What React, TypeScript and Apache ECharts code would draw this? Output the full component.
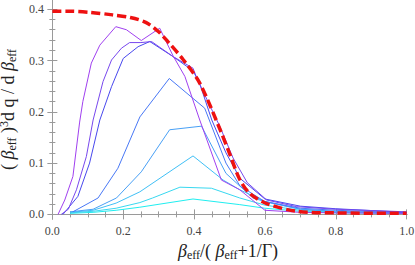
import React, { useEffect, useRef } from "react";
import * as echarts from "echarts";

// x = beta_eff/(beta_eff+1/Gamma), y = beta_eff^3 dq/dbeta_eff
const curveViolet: number[][] = [
  [0.016, 0.0], [0.035, 0.028], [0.058, 0.074], [0.077, 0.18], [0.086, 0.22], [0.11, 0.295],
  [0.134, 0.33], [0.179, 0.366], [0.209, 0.36], [0.251, 0.339], [0.303, 0.363], [0.34, 0.31],
  [0.374, 0.269], [0.416, 0.184], [0.477, 0.067], [0.529, 0.048], [0.6, 0.008], [0.7, 0.004],
  [0.8, 0.003], [1.0, 0.002],
];
const curvePurpleBlue: number[][] = [
  [0.025, 0.0], [0.045, 0.01], [0.068, 0.048], [0.096, 0.113], [0.115, 0.184], [0.143, 0.259],
  [0.167, 0.301], [0.195, 0.324], [0.218, 0.335], [0.25, 0.335], [0.28, 0.337], [0.34, 0.308],
  [0.397, 0.285], [0.41, 0.262], [0.473, 0.171], [0.51, 0.11], [0.55, 0.062], [0.605, 0.028],
  [0.69, 0.015], [0.8, 0.01], [1.0, 0.005],
];
const curveBlue: number[][] = [
  [0.03, 0.0], [0.072, 0.035], [0.105, 0.1], [0.134, 0.184], [0.167, 0.249], [0.2, 0.304],
  [0.242, 0.327], [0.275, 0.337], [0.34, 0.308], [0.397, 0.28], [0.416, 0.255], [0.45, 0.184],
  [0.49, 0.12], [0.53, 0.07], [0.6, 0.03], [0.7, 0.016], [0.8, 0.011], [1.0, 0.004],
];
const curveMidBlue: number[][] = [
  [0.058, 0.005], [0.129, 0.032], [0.185, 0.09], [0.247, 0.19], [0.33, 0.265], [0.43, 0.207],
  [0.49, 0.1], [0.53, 0.055], [0.6, 0.025], [0.7, 0.012], [0.8, 0.008], [1.0, 0.003],
];
const curveSky: number[][] = [
  [0.05, 0.005], [0.115, 0.01], [0.181, 0.032], [0.251, 0.083], [0.331, 0.165], [0.421, 0.172],
  [0.49, 0.08], [0.566, 0.032], [0.6, 0.025], [0.7, 0.01], [0.8, 0.006], [1.0, 0.002],
];
const curveLightBlue: number[][] = [
  [0.05, 0.004], [0.115, 0.008], [0.18, 0.022], [0.247, 0.044], [0.397, 0.114], [0.482, 0.067],
  [0.529, 0.048], [0.6, 0.025], [0.7, 0.01], [0.8, 0.005], [1.0, 0.002],
];
const curveAqua: number[][] = [
  [0.05, 0.003], [0.115, 0.006], [0.18, 0.012], [0.247, 0.023], [0.283, 0.032], [0.36, 0.053],
  [0.449, 0.051], [0.529, 0.032], [0.6, 0.018], [0.7, 0.008], [0.8, 0.004], [1.0, 0.002],
];
const curveCyan: number[][] = [
  [0.05, 0.002], [0.115, 0.004], [0.18, 0.008], [0.247, 0.014], [0.397, 0.03], [0.529, 0.019],
  [0.6, 0.012], [0.7, 0.006], [0.8, 0.003], [1.0, 0.002],
];
const curveLimit: number[][] = [
  [0.0, 0.396], [0.05, 0.396], [0.105, 0.394], [0.17, 0.389], [0.22, 0.384], [0.265, 0.374],
  [0.3, 0.356], [0.327, 0.336], [0.369, 0.302], [0.416, 0.256], [0.473, 0.166], [0.501, 0.117],
  [0.529, 0.068], [0.557, 0.041], [0.605, 0.021], [0.69, 0.006], [0.8, 0.003], [1.0, 0.002],
];

const xMajor = [0, 0.2, 0.4, 0.6, 0.8, 1.0];
const xMinor = [0.05, 0.1, 0.15, 0.25, 0.3, 0.35, 0.45, 0.5, 0.55, 0.65, 0.7, 0.75, 0.85, 0.9, 0.95];
const yMajor = [0, 0.1, 0.2, 0.3, 0.4];
const yMinor = [0.02, 0.04, 0.06, 0.08, 0.12, 0.14, 0.16, 0.18, 0.22, 0.24, 0.26, 0.28, 0.32, 0.34, 0.36, 0.38];

const curveColors = ["#a040f0", "#7848ee", "#4848ee", "#4878f6", "#48a0f6", "#40c0f6", "#38d8f0", "#20eef0"];

const SERIF = "Liberation Serif";
const FRAME = "#9a9a9a";

export default function App() {
  const ref = useRef<HTMLDivElement>(null);
  useEffect(() => {
    if (!ref.current) return;
    const chart = echarts.init(ref.current, null, { renderer: "svg" });
    const xMin = -0.0095, xMax = 1.001, yMin = -0.009, yMax = 0.418;
    const rich = {
      t: { fontFamily: SERIF, fontSize: 18, color: "#222", lineHeight: 20, verticalAlign: "middle" },
      b: { fontFamily: SERIF, fontSize: 18, fontStyle: "italic", color: "#222", lineHeight: 20, verticalAlign: "middle" },
      s: { fontFamily: SERIF, fontSize: 12, color: "#222", lineHeight: 11, verticalAlign: "bottom" },
      p: { fontFamily: SERIF, fontSize: 12, color: "#222", lineHeight: 11, verticalAlign: "top" },
    };
    const tickAxis = (major: boolean, vals: number[], labels: boolean, extra: any) => ({
      type: "value",
      axisLine: { show: major, lineStyle: { color: FRAME, width: 1 } },
      axisTick: { show: true, inside: true, length: major ? 5 : 3, customValues: vals, lineStyle: { color: FRAME, width: 1 } },
      axisLabel: labels
        ? { show: true, customValues: vals, formatter: (v: number) => v.toFixed(1), fontFamily: SERIF, fontSize: 12, color: "#444" }
        : { show: false },
      splitLine: { show: false },
      ...extra,
    });
    const mk = (data: number[][], color: string) => ({
      type: "line", data, symbol: "none", smooth: false, xAxisIndex: 0, yAxisIndex: 0,
      lineStyle: { color, width: 1 }, silent: true,
    });
    chart.setOption({
      animation: false,
      backgroundColor: "#fff",
      grid: { left: 49, right: 8, top: 0, bottom: 46, containLabel: false, outerBoundsMode: "none" },
      xAxis: [
        tickAxis(true, xMajor, true, {
          min: xMin, max: xMax, position: "bottom",
          axisLabel: { show: true, customValues: xMajor, formatter: (v: number) => v.toFixed(1), fontFamily: SERIF, fontSize: 12, color: "#444", margin: 6 },
          name: "{b|β}{s|eff}{t|/( }{b|β}{s|eff}{t|+1/Γ)}",
          nameLocation: "middle", nameGap: 15, nameTextStyle: { rich },
        }),
        tickAxis(false, xMinor, false, { min: xMin, max: xMax, position: "bottom" }),
        tickAxis(true, xMajor, false, { min: xMin, max: xMax, position: "top" }),
        tickAxis(false, xMinor, false, { min: xMin, max: xMax, position: "top" }),
      ],
      yAxis: [
        tickAxis(true, yMajor, true, {
          min: yMin, max: yMax, position: "left",
          axisLabel: { show: true, customValues: yMajor, formatter: (v: number) => v.toFixed(1), fontFamily: SERIF, fontSize: 12, color: "#444", margin: 5 },
          name: "{t|( }{b|β}{s|eff}{t| )}{p|3}{t|d q / d }{b|β}{s|eff}",
          nameLocation: "middle", nameGap: 19, nameTextStyle: { rich },
        }),
        tickAxis(false, yMinor, false, { min: yMin, max: yMax, position: "left" }),
        tickAxis(true, yMajor, false, { min: yMin, max: yMax, position: "right" }),
        tickAxis(false, yMinor, false, { min: yMin, max: yMax, position: "right" }),
      ],
      series: [
        mk(curveCyan, curveColors[7]),
        mk(curveAqua, curveColors[6]),
        mk(curveLightBlue, curveColors[5]),
        mk(curveSky, curveColors[4]),
        mk(curveMidBlue, curveColors[3]),
        mk(curveBlue, curveColors[2]),
        mk(curvePurpleBlue, curveColors[1]),
        mk(curveViolet, curveColors[0]),
        {
          type: "line", data: curveLimit, symbol: "none", smooth: 0.3, xAxisIndex: 0, yAxisIndex: 0, silent: true,
          lineStyle: { color: "#ee1111", width: 3.5, type: [9, 4] },
        },
      ],
    });
    return () => chart.dispose();
  }, []);
  return <div ref={ref} style={{ position: "fixed", left: 0, top: 0, width: 415, height: 265 }} />;
}
